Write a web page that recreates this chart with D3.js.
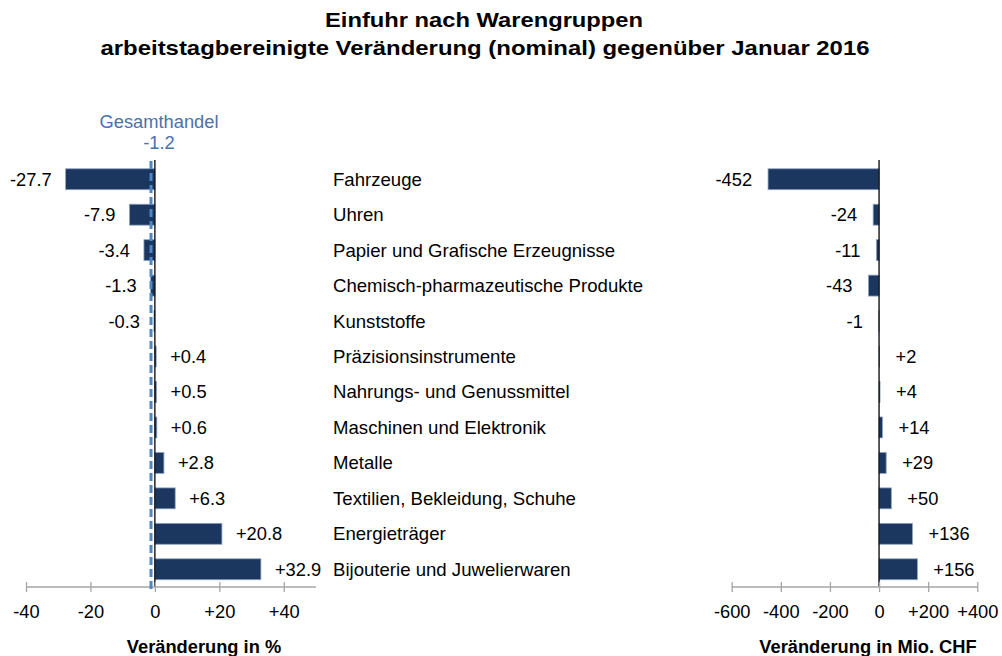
<!DOCTYPE html>
<html lang="de">
<head>
  <meta charset="utf-8">
  <title>Einfuhr nach Warengruppen</title>
  <script src="https://d3js.org/d3.v7.min.js"></script>
  <style>
    body { margin: 0; background: #fff; }
    svg text { font-family: "Liberation Sans", Arial, sans-serif; fill: #000; }
    .bar { fill: #1b375f; stroke: #8ea3bf; stroke-width: 0.8; }
    .axis line, .axis path { stroke: #a6a6a6; stroke-width: 1.3; }
  </style>
</head>
<body>
  <script>
    var categories = ["Fahrzeuge", "Uhren", "Papier und Grafische Erzeugnisse",
      "Chemisch-pharmazeutische Produkte", "Kunststoffe", "Präzisionsinstrumente",
      "Nahrungs- und Genussmittel", "Maschinen und Elektronik", "Metalle",
      "Textilien, Bekleidung, Schuhe", "Energieträger", "Bijouterie und Juwelierwaren"];
    var pctValues = [-27.7, -7.9, -3.4, -1.3, -0.3, 0.4, 0.5, 0.6, 2.8, 6.3, 20.8, 32.9];
    var chfValues = [-452, -24, -11, -43, -1, 2, 4, 14, 29, 50, 136, 156];
    var pctTicks = [-40, -20, 0, 20, 40];
    var chfTicks = [-600, -400, -200, 0, 200, 400];
    var totalPct = -1.2;

    var w = 1002, h = 656;
    var svg = d3.select('body').append('svg')
      .attr('width', w)
      .attr('height', h);

    // titel
    svg.append('text').attr('x', 484).attr('y', 27)
      .attr('text-anchor', 'middle').attr('font-size', 20.5).attr('font-weight', 'bold')
      .attr('textLength', 318).attr('lengthAdjust', 'spacingAndGlyphs')
      .text('Einfuhr nach Warengruppen');
    svg.append('text').attr('x', 485).attr('y', 55)
      .attr('text-anchor', 'middle').attr('font-size', 20.5).attr('font-weight', 'bold')
      .attr('textLength', 769).attr('lengthAdjust', 'spacingAndGlyphs')
      .text('arbeitstagbereinigte Veränderung (nominal) gegenüber Januar 2016');

    var y = d3.scaleBand()
      .domain(categories)
      .range([161.5, 587])
      .paddingInner(0.41)
      .paddingOuter(0.205);

    var xL = d3.scaleLinear().domain([-40, 50]).range([26, 316]);
    var xR = d3.scaleLinear().domain([-600, 400]).range([731.7, 977.3]);
    var axisY = 587;

    function signed(v, dec) {
      var s = dec ? v.toFixed(dec) : String(v);
      return (v > 0 ? '+' : '') + s;
    }

    function drawPanel(x, values, ticks, dec, gap, title, titleX) {
      var g = svg.append('g');

      g.selectAll('.bar')
        .data(values)
        .enter().append('rect')
        .attr('class', 'bar')
        .attr('x', function(d) { return x(Math.min(0, d)); })
        .attr('width', function(d) { return Math.abs(x(d) - x(0)); })
        .attr('y', function(d, i) { return y(categories[i]); })
        .attr('height', y.bandwidth());

      g.selectAll('.val')
        .data(values)
        .enter().append('text')
        .attr('class', 'val')
        .attr('font-size', 18.3)
        .attr('x', function(d) { return d < 0 ? x(d) - gap : x(d) + gap; })
        .attr('y', function(d, i) { return y(categories[i]) + y.bandwidth() / 2 + 6.5; })
        .attr('text-anchor', function(d) { return d < 0 ? 'end' : 'start'; })
        .text(function(d) { return signed(d, dec); });

      // nulllinie
      g.append('line')
        .attr('x1', x(0)).attr('x2', x(0))
        .attr('y1', 160).attr('y2', axisY)
        .attr('stroke', '#000').attr('stroke-width', 1.3);

      var axis = d3.axisBottom(x)
        .tickValues(ticks)
        .tickSizeInner(5)
        .tickSizeOuter(0)
        .tickPadding(13)
        .tickFormat(function(d) { return signed(d); });

      var ag = g.append('g')
        .attr('class', 'axis')
        .attr('transform', 'translate(0,' + axisY + ')')
        .call(axis);
      ag.select('.domain').attr('d', 'M' + x.range()[0] + ',0H' + x.range()[1]);
      ag.selectAll('.tick line').attr('y1', -5).attr('y2', 5);
      ag.selectAll('.tick text')
        .attr('font-size', 18.3)
        .attr('font-family', '"Liberation Sans", Arial, sans-serif')
        .attr('fill', '#000');

      g.append('text')
        .attr('x', titleX).attr('y', 653)
        .attr('text-anchor', 'middle')
        .attr('font-size', 18.3).attr('font-weight', 'bold')
        .text(title);
    }

    drawPanel(xL, pctValues, pctTicks, 1, 14, 'Veränderung in %', 204);
    drawPanel(xR, chfValues, chfTicks, 0, 16, 'Veränderung in Mio. CHF', 868);

    // kategorien
    svg.selectAll('.cat')
      .data(categories)
      .enter().append('text')
      .attr('class', 'cat')
      .attr('x', 333)
      .attr('y', function(d) { return y(d) + y.bandwidth() / 2 + 6.5; })
      .attr('font-size', 18.6)
      .text(function(d) { return d; });

    // gesamthandel
    svg.append('line')
      .attr('x1', xL(totalPct)).attr('x2', xL(totalPct))
      .attr('y1', 161).attr('y2', 590)
      .attr('stroke', '#4a86c8')
      .attr('stroke-width', 3)
      .attr('stroke-dasharray', '8,4');
    svg.append('text')
      .attr('x', 159).attr('y', 128)
      .attr('text-anchor', 'middle')
      .attr('font-size', 18.3)
      .style('fill', '#4a72a8')
      .text('Gesamthandel');
    svg.append('text')
      .attr('x', 159).attr('y', 149)
      .attr('text-anchor', 'middle')
      .attr('font-size', 18.3)
      .style('fill', '#4a72a8')
      .text(signed(totalPct, 1));
  </script>
</body>
</html>
